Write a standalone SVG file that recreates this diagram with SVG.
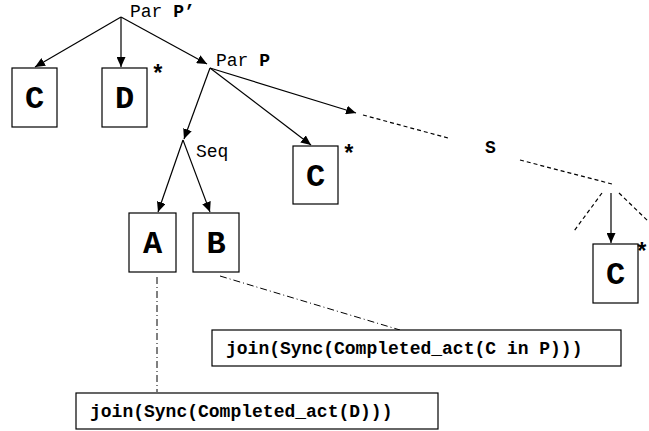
<svg xmlns="http://www.w3.org/2000/svg" width="649" height="431" viewBox="0 0 649 431">
  <style>
    .box { fill: #fff; stroke: #000; stroke-width: 1.2; }
    .big { font-family: "Liberation Mono", "Courier New", monospace; font-weight: bold; font-size: 32px; text-anchor: middle; fill: #000; }
    .lbl { font-family: "Liberation Mono", "Courier New", monospace; font-size: 18px; fill: #000; }
    .b { font-weight: bold; }
    .star { font-family: "Liberation Mono", "Courier New", monospace; font-weight: bold; font-size: 23px; text-anchor: middle; fill: #000; }
    .edge { stroke: #000; stroke-width: 1.2; fill: none; }
    .arrow { marker-end: url(#head); }
    .dash { stroke-dasharray: 4 3; }
    .dashdot { stroke-dasharray: 7 3 1 3; stroke-width: 1; }
  </style>
  <defs>
    <marker id="head" markerUnits="userSpaceOnUse" markerWidth="11" markerHeight="9" refX="10" refY="4.5" orient="auto">
      <path d="M0,0 L10,4.5 L0,9 z" fill="#000"/>
    </marker>
  </defs>
  <rect width="649" height="431" fill="#fff"/>

  <!-- tree edges -->
  <g id="connectors">
    <line class="edge arrow" x1="121" y1="17" x2="35" y2="67"/>
    <line class="edge arrow" x1="121" y1="17" x2="121" y2="67"/>
    <line class="edge arrow" x1="121" y1="17" x2="207" y2="64"/>
    <line class="edge arrow" x1="210" y1="68" x2="184" y2="139"/>
    <line class="edge arrow" x1="210" y1="68" x2="311" y2="145"/>
    <line class="edge arrow" x1="210" y1="68" x2="356" y2="113"/>
    <line class="edge arrow" x1="183" y1="140" x2="158" y2="212"/>
    <line class="edge arrow" x1="183" y1="140" x2="210" y2="212"/>
    <line class="edge dash" x1="363" y1="115" x2="448" y2="138"/>
    <line class="edge dash" x1="520" y1="160" x2="612" y2="184"/>
    <line class="edge dash" x1="602" y1="193" x2="574" y2="231"/>
    <line class="edge dash" x1="619" y1="193" x2="648" y2="221"/>
    <line class="edge arrow" x1="611" y1="193" x2="611" y2="243"/>
    <line class="edge dashdot" x1="157" y1="277" x2="157" y2="392"/>
    <line class="edge dashdot" x1="220" y1="276" x2="400" y2="330"/>
  </g>

  <g id="par-p-prime">
    <text class="lbl" x="130" y="17">Par <tspan class="b">P’</tspan></text>
  </g>
  <g id="par-p">
    <text class="lbl" x="216" y="66">Par <tspan class="b">P</tspan></text>
  </g>
  <g id="seq">
    <text class="lbl" x="196" y="157">Seq</text>
  </g>
  <g id="s">
    <text class="lbl b" x="485" y="153">S</text>
  </g>

  <g id="node-c1">
    <rect class="box" x="12" y="68" width="45" height="59"/>
    <text class="big" x="34.5" y="108">C</text>
  </g>
  <g id="node-d">
    <rect class="box" x="102" y="68" width="45" height="59"/>
    <text class="big" x="124.5" y="108">D</text>
    <text class="star" x="158" y="82">*</text>
  </g>
  <g id="node-c2">
    <rect class="box" x="293" y="146" width="45" height="58"/>
    <text class="big" x="315.5" y="186">C</text>
    <text class="star" x="349" y="162">*</text>
  </g>
  <g id="node-a">
    <rect class="box" x="129" y="213" width="47" height="59"/>
    <text class="big" x="152.5" y="253">A</text>
  </g>
  <g id="node-b">
    <rect class="box" x="193" y="213" width="46" height="59"/>
    <text class="big" x="216" y="253">B</text>
  </g>
  <g id="node-c3">
    <rect class="box" x="593" y="244" width="45" height="59"/>
    <text class="big" x="615.5" y="284">C</text>
    <text class="star" x="642" y="260">*</text>
  </g>

  <g id="join-c">
    <rect class="box" x="212" y="330" width="409" height="36"/>
    <text class="lbl b" x="226" y="354">join(Sync(Completed_act(C in P)))</text>
  </g>
  <g id="join-d">
    <rect class="box" x="76" y="393" width="362" height="36"/>
    <text class="lbl b" x="90" y="417">join(Sync(Completed_act(D)))</text>
  </g>
</svg>
